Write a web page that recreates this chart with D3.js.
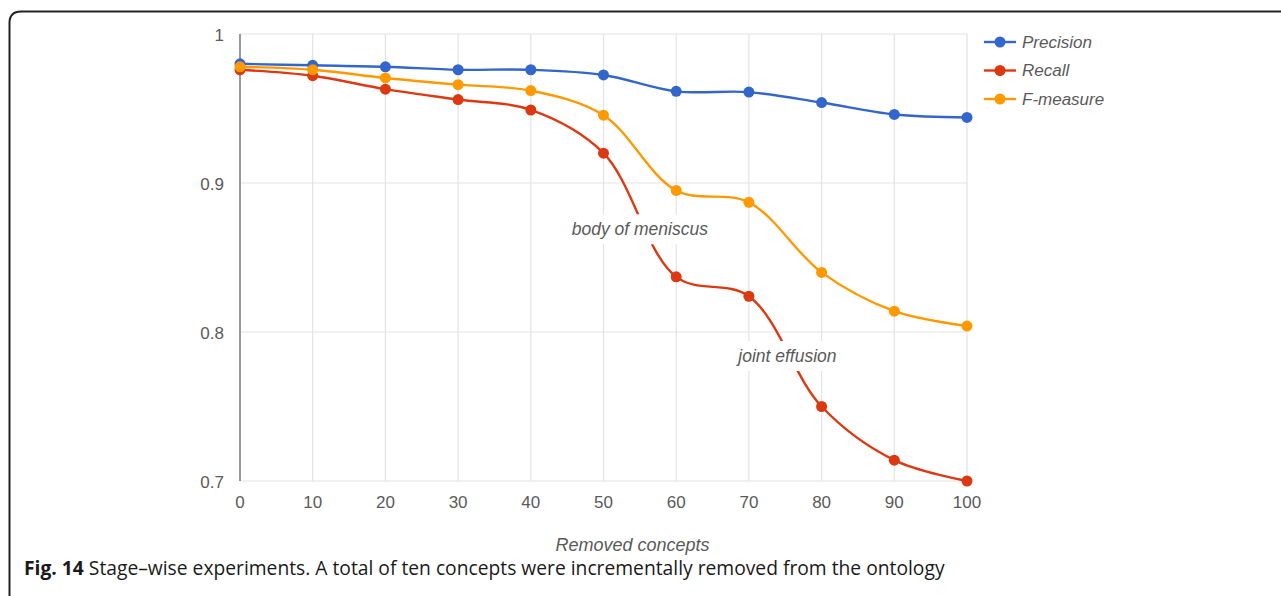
<!DOCTYPE html>
<html>
<head>
<meta charset="utf-8">
<script src="https://cdn.jsdelivr.net/npm/d3@7"></script>
<style>
  html, body { margin: 0; padding: 0; background: #fff; }
  svg { display: block; }
</style>
</head>
<body>
<svg id="chart" width="1281" height="596"></svg>
<script>
// ---- data ----
const removed = [0, 10, 20, 30, 40, 50, 60, 70, 80, 90, 100];
const precision = [0.980, 0.979, 0.978, 0.976, 0.976, 0.9725, 0.9615, 0.961, 0.954, 0.946, 0.944];
const recall    = [0.976, 0.972, 0.963, 0.956, 0.949, 0.920, 0.837, 0.824, 0.750, 0.714, 0.700];
const fmeasure  = [0.978, 0.976, 0.9705, 0.966, 0.962, 0.9455, 0.895, 0.887, 0.840, 0.814, 0.804];
const seriesNames = ["Precision", "Recall", "F-measure"];
const xTicks = [0, 10, 20, 30, 40, 50, 60, 70, 80, 90, 100];
const yTicks = [0.7, 0.8, 0.9, 1];
const yTickLabels = ["0.7", "0.8", "0.9", "1"];
const annotations = [
  { x: 55, y: 0.869, text: "body of meniscus" },
  { x: 75.3, y: 0.784, text: "joint effusion" }
];
const xTitle = "Removed concepts";
const captionBold = "Fig. 14";
const captionRest = " Stage\u2013wise experiments. A total of ten concepts were incrementally removed from the ontology";

// ---- layout ----
const colors = ["#3366cc", "#dc3912", "#ff9900"];
const values = [precision, recall, fmeasure];
const svg = d3.select("#chart");
const x = d3.scaleLinear().domain([0, 100]).range([240, 967]);
const y = d3.scaleLinear().domain([0.7, 1]).range([481, 34]);
const font = "'Liberation Sans', Arial, sans-serif";
const textCol = "#5a5a5a";

// frame
svg.append("path")
  .attr("d", "M9.5,596 L9.5,23 Q9.5,11.5 21,11.5 L1281,11.5")
  .attr("fill", "none").attr("stroke", "#222").attr("stroke-width", 2);

// gridlines
svg.append("g").selectAll("line").data(xTicks.slice(1)).join("line")
  .attr("x1", d => x(d)).attr("x2", d => x(d))
  .attr("y1", y(1)).attr("y2", y(0.7))
  .attr("stroke", "#e3e3e3").attr("stroke-width", 1.2);
svg.append("g").selectAll("line").data(yTicks).join("line")
  .attr("x1", x(0)).attr("x2", x(100))
  .attr("y1", d => y(d)).attr("y2", d => y(d))
  .attr("stroke", "#e3e3e3").attr("stroke-width", 1.2);

// y axis line
svg.append("line")
  .attr("x1", x(0)).attr("x2", x(0)).attr("y1", y(1)).attr("y2", y(0.7))
  .attr("stroke", "#999").attr("stroke-width", 2);

// y tick labels
svg.append("g").selectAll("text").data(yTicks).join("text")
  .attr("x", 224).attr("y", d => y(d) + 1).attr("dy", "0.35em")
  .attr("text-anchor", "end")
  .attr("font-family", font).attr("font-size", 17).attr("fill", textCol)
  .text((d, i) => yTickLabels[i]);

// x tick labels
svg.append("g").selectAll("text").data(xTicks).join("text")
  .attr("x", d => x(d)).attr("y", 502).attr("dy", "0.35em")
  .attr("text-anchor", "middle")
  .attr("font-family", font).attr("font-size", 17).attr("fill", textCol)
  .text(d => d);

// x title
svg.append("text")
  .attr("x", x(54)).attr("y", 545).attr("dy", "0.35em")
  .attr("text-anchor", "middle").attr("font-style", "italic")
  .attr("font-family", font).attr("font-size", 18).attr("fill", textCol)
  .text(xTitle);

// series
const line = d3.line().x((d, i) => x(removed[i])).y(d => y(d)).curve(d3.curveCatmullRom.alpha(0.5));
values.forEach((vals, s) => {
  const g = svg.append("g");
  g.append("path").attr("d", line(vals))
    .attr("fill", "none").attr("stroke", colors[s]).attr("stroke-width", 2.4);
  g.selectAll("circle").data(vals).join("circle")
    .attr("cx", (d, i) => x(removed[i])).attr("cy", d => y(d)).attr("r", 5.5)
    .attr("fill", colors[s]);
});

// annotations
annotations.forEach(a => {
  const g = svg.append("g");
  const t = g.append("text")
    .attr("x", x(a.x)).attr("y", y(a.y)).attr("dy", "0.35em")
    .attr("text-anchor", "middle").attr("font-style", "italic")
    .attr("font-family", font).attr("font-size", 17.5).attr("fill", textCol)
    .text(a.text);
  const bb = t.node().getBBox();
  g.insert("rect", "text")
    .attr("x", bb.x - 2).attr("y", bb.y - 5).attr("width", bb.width + 4).attr("height", bb.height + 10)
    .attr("fill", "#fff");
});

// legend
const lg = svg.append("g");
seriesNames.forEach((name, i) => {
  const ly = 42 + i * 28.5;
  lg.append("line").attr("x1", 984).attr("x2", 1016).attr("y1", ly).attr("y2", ly)
    .attr("stroke", colors[i]).attr("stroke-width", 2.4);
  lg.append("circle").attr("cx", 1000).attr("cy", ly).attr("r", 5.5).attr("fill", colors[i]);
  lg.append("text").attr("x", 1022).attr("y", ly).attr("dy", "0.35em")
    .attr("font-style", "italic").attr("font-family", font).attr("font-size", 17)
    .attr("fill", textCol).text(name);
});

// caption
const cap = svg.append("text")
  .attr("x", 24).attr("y", 568).attr("dy", "0.35em")
  .attr("font-family", "'Open Sans', 'Noto Sans', sans-serif").attr("font-size", 16).attr("fill", "#1a1a1a");
cap.append("tspan").attr("font-weight", "bold").text(captionBold);
cap.append("tspan").text(captionRest);
const w = cap.node().getComputedTextLength();
const target = 945 - 24;
cap.attr("font-size", 16 * target / w);
</script>
</body>
</html>
